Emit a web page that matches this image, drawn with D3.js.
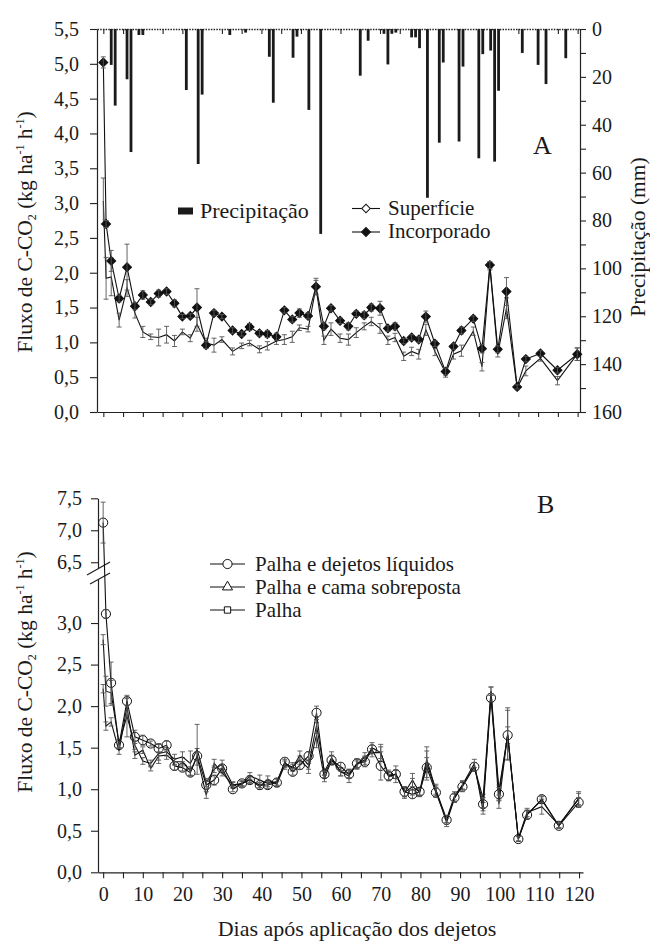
<!DOCTYPE html>
<html>
<head>
<meta charset="utf-8">
<script src="https://cdn.jsdelivr.net/npm/d3@7"></script>
<style>
body { margin: 0; background: #fff; }
svg text { font-family: "Liberation Serif", Tinos, "DejaVu Serif", serif; fill: #1a1a1a; }
</style>
</head>
<body>
<svg id="chart" width="650" height="941"></svg>
<script>
// sampling days (shared by both panels)
const days = [0, 0.7, 2, 4, 6, 8, 10, 12, 14, 16,
    18, 20, 22, 23.7, 26, 28, 30, 32.7, 35, 37,
    39.5, 41.5, 43.8, 45.8, 47.8, 49.6, 51.8, 53.8, 55.8, 57.6,
    59.9, 62, 64, 66, 67.8, 70, 72, 73.8, 76, 78,
    79.8, 81.6, 83.9, 86.6, 88.6, 90.6, 93.6, 95.8, 97.8, 99.8,
    102, 104.7, 106.9, 110.6, 114.9, 119.9]

// panel A
const superficie = [3.03, 1.92, 1.94, 1.32, 1.78, 1.42, 1.15, 1.08, 1.07, 1.11,
    1.02, 1.15, 1.06, 1.26, 0.99, 0.96, 1.04, 0.87, 0.95, 0.99,
    0.90, 0.95, 1.02, 1.04, 1.08, 1.21, 1.19, 1.79, 1.03, 1.19,
    1.06, 1.04, 1.14, 1.23, 1.30, 1.20, 1.03, 1.07, 0.80, 0.87,
    0.83, 1.18, 0.87, 0.56, 0.83, 0.88, 1.16, 0.65, 2.09, 0.83,
    1.49, 0.35, 0.59, 0.77, 0.45, 0.83]
const superficieErr = [0.33, 0.3, 0.27, 0.1, 0.12, 0.07, 0.08, 0.04, 0.12, 0.12,
    0.08, 0.04, 0.05, 0.1, 0.07, 0.1, 0.04, 0.05, 0.04, 0.04,
    0.05, 0.06, 0.05, 0.07, 0.08, 0.04, 0.04, 0.1, 0.06, 0.09,
    0.06, 0.08, 0.07, 0.05, 0.06, 0.07, 0.06, 0.06, 0.06, 0.06,
    0.07, 0.08, 0.06, 0.06, 0.07, 0.08, 0.06, 0.06, 0.05, 0.04,
    0.15, 0.03, 0.07, 0.04, 0.06, 0.09]
const incorporado = [5.02, 2.70, 2.17, 1.63, 2.08, 1.52, 1.68, 1.58, 1.70, 1.73,
    1.56, 1.37, 1.38, 1.50, 0.96, 1.42, 1.37, 1.17, 1.12, 1.22,
    1.13, 1.12, 1.08, 1.46, 1.33, 1.42, 1.38, 1.80, 1.23, 1.49,
    1.31, 1.23, 1.41, 1.39, 1.50, 1.49, 1.20, 1.23, 1.02, 1.07,
    1.04, 1.37, 0.98, 0.58, 0.94, 1.17, 1.34, 0.91, 2.11, 0.90,
    1.73, 0.36, 0.76, 0.84, 0.60, 0.83]
const incorporadoErr = [0.08, 0.05, 0.15, 0.05, 0.33, 0.05, 0.06, 0.04, 0.05, 0.04,
    0.05, 0.03, 0.03, 0.27, 0.05, 0.04, 0.03, 0.04, 0.03, 0.05,
    0.04, 0.05, 0.05, 0.04, 0.04, 0.06, 0.04, 0.12, 0.05, 0.04,
    0.04, 0.05, 0.04, 0.05, 0.05, 0.1, 0.04, 0.05, 0.04, 0.04,
    0.04, 0.08, 0.04, 0.05, 0.04, 0.05, 0.04, 0.06, 0.05, 0.05,
    0.2, 0.03, 0.04, 0.04, 0.04, 0.09]

const precipDays = [2, 3, 6, 7, 9, 10, 21, 24, 25, 32,
    36, 42, 43, 48, 49, 52, 55, 65, 67, 71,
    72, 73, 74, 78, 79, 80, 82, 85, 86, 90,
    91, 95, 96, 98, 99, 100, 106, 110, 112, 117]
const precipMm = [15, 32, 21, 51.4, 2.5, 2.5, 25.5, 56.4, 27.4, 2.5,
    1.5, 11.6, 30.8, 12, 3.2, 33.8, 85.6, 19.5, 4.9, 2,
    14.8, 2, 1.5, 3.5, 3.5, 8, 70.5, 47.5, 14, 47,
    15.7, 54, 10.5, 9, 55.4, 25.8, 10, 15, 23, 12.2]

// panel B
const liquidos = [7.12, 3.11, 2.28, 1.53, 2.06, 1.63, 1.59, 1.55, 1.49, 1.53,
    1.28, 1.26, 1.20, 1.40, 1.05, 1.11, 1.25, 1.00, 1.07, 1.11,
    1.05, 1.05, 1.08, 1.33, 1.21, 1.29, 1.40, 1.92, 1.18, 1.35,
    1.27, 1.18, 1.31, 1.33, 1.48, 1.28, 1.16, 1.18, 0.97, 0.94,
    0.97, 1.26, 0.96, 0.63, 0.90, 1.03, 1.27, 0.82, 2.10, 0.94,
    1.65, 0.40, 0.69, 0.88, 0.56, 0.84]
const liquidosErr = [0.32, 0.05, 0.25, 0.04, 0.05, 0.08, 0.06, 0.03, 0.05, 0.05,
    0.05, 0.04, 0.04, 0.05, 0.05, 0.06, 0.04, 0.03, 0.03, 0.04,
    0.03, 0.04, 0.04, 0.05, 0.04, 0.05, 0.05, 0.08, 0.04, 0.06,
    0.05, 0.05, 0.05, 0.06, 0.05, 0.17, 0.05, 0.05, 0.06, 0.05,
    0.04, 0.12, 0.06, 0.05, 0.05, 0.06, 0.05, 0.08, 0.05, 0.08,
    0.3, 0.03, 0.05, 0.04, 0.03, 0.06]
const cama = [2.80, 2.18, 2.16, 1.55, 1.88, 1.53, 1.34, 1.31, 1.43, 1.45,
    1.36, 1.39, 1.31, 1.48, 1.08, 1.24, 1.30, 1.05, 1.06, 1.16,
    1.11, 1.07, 1.09, 1.31, 1.26, 1.41, 1.29, 1.77, 1.21, 1.38,
    1.21, 1.16, 1.31, 1.35, 1.50, 1.44, 1.17, 1.18, 0.96, 1.11,
    0.96, 1.31, 0.99, 0.60, 0.89, 1.05, 1.31, 0.74, 2.18, 0.99,
    1.65, 0.41, 0.72, 0.79, 0.57, 0.88]
const camaErr = [0.06, 0.18, 0.15, 0.05, 0.25, 0.05, 0.04, 0.04, 0.12, 0.05,
    0.06, 0.06, 0.15, 0.3, 0.05, 0.04, 0.05, 0.04, 0.03, 0.04,
    0.06, 0.04, 0.04, 0.05, 0.04, 0.05, 0.05, 0.1, 0.04, 0.07,
    0.05, 0.08, 0.06, 0.05, 0.06, 0.07, 0.06, 0.1, 0.07, 0.08,
    0.05, 0.2, 0.07, 0.05, 0.05, 0.05, 0.05, 0.04, 0.05, 0.06,
    0.1, 0.03, 0.05, 0.09, 0.03, 0.07]
const palha = [2.21, 1.76, 1.81, 1.46, 1.99, 1.41, 1.47, 1.25, 1.40, 1.41,
    1.33, 1.33, 1.22, 1.39, 0.93, 1.31, 1.20, 1.05, 1.07, 1.12,
    1.03, 1.12, 1.06, 1.29, 1.27, 1.35, 1.25, 1.65, 1.13, 1.35,
    1.21, 1.19, 1.29, 1.39, 1.44, 1.44, 1.15, 1.18, 0.96, 1.03,
    0.97, 1.36, 0.99, 0.64, 0.92, 1.05, 1.27, 0.89, 2.18, 0.82,
    1.67, 0.40, 0.70, 0.87, 0.56, 0.89]
const palhaErr = [0.05, 0.05, 0.05, 0.04, 0.1, 0.04, 0.04, 0.03, 0.05, 0.05,
    0.04, 0.05, 0.05, 0.1, 0.04, 0.05, 0.04, 0.03, 0.03, 0.04,
    0.03, 0.04, 0.03, 0.05, 0.05, 0.05, 0.06, 0.15, 0.04, 0.05,
    0.05, 0.05, 0.05, 0.05, 0.05, 0.1, 0.05, 0.05, 0.05, 0.1,
    0.05, 0.1, 0.05, 0.04, 0.05, 0.05, 0.05, 0.05, 0.05, 0.05,
    0.31, 0.03, 0.05, 0.04, 0.03, 0.08]

const fluxTicksA = [0, 0.5, 1, 1.5, 2, 2.5, 3, 3.5, 4, 4.5, 5, 5.5]
const precipTicks = [0, 10, 20, 30, 40, 50, 60, 70, 80, 90, 100, 110, 120, 130, 140, 150, 160]
const fluxTicksLow = [0, 0.5, 1, 1.5, 2, 2.5, 3]
const fluxTicksHigh = [6.5, 7, 7.5]
const dayTicks = d3.range(0, 121, 5)

const ptBR = d3.formatLocale({ decimal: ',', thousands: '.', grouping: [3], currency: ['R$', ''] })
const fmt1 = ptBR.format('.1f')

const svg = d3.select('#chart')
const FONT = 20       // tick labels
const LABEL = 21      // legends
const TITLE = 21.5    // axis titles
const SERIF = '"Liberation Serif", Tinos, "DejaVu Serif", serif'

function pack(vals, errs) {
    return days.map((d, i) => ({ day: d, v: vals[i], e: errs[i] }))
}

function styleAxis(g) {
    g.attr('font-family', SERIF)
    g.selectAll('path.domain').attr('stroke', '#222').attr('stroke-width', 1.2)
    g.selectAll('.tick line').attr('stroke', '#222').attr('stroke-width', 1.1)
    g.selectAll('.tick text').attr('font-size', FONT).attr('fill', '#1a1a1a')
}

function fluxTitle(x, y) {
    const t = svg.append('text')
        .attr('transform', `translate(${x}, ${y}) rotate(-90)`)
        .attr('text-anchor', 'middle')
        .attr('font-size', TITLE)
    t.append('tspan').text('Fluxo de C-CO')
    t.append('tspan').attr('font-size', 12).attr('dy', 4).text('2')
    t.append('tspan').attr('dy', -4).text(' (kg ha')
    t.append('tspan').attr('font-size', 12).attr('dy', -8).text('-1')
    t.append('tspan').attr('dy', 8).text(' h')
    t.append('tspan').attr('font-size', 12).attr('dy', -8).text('-1')
    t.append('tspan').attr('dy', 8).text(')')
}

function drawSeries(g, data, x, y, symbol, size, fill, rotate) {
    g.append('path')
        .datum(data)
        .attr('fill', 'none')
        .attr('stroke', '#111')
        .attr('stroke-width', 1.1)
        .attr('d', d3.line().x(d => x(d.day)).y(d => y(d.v)))

    const eb = g.append('g').attr('stroke', '#555').attr('stroke-width', 0.9)
    eb.selectAll('line.bar')
        .data(data)
        .join('line')
        .attr('class', 'bar')
        .attr('x1', d => x(d.day)).attr('x2', d => x(d.day))
        .attr('y1', d => y(d.v - d.e)).attr('y2', d => y(d.v + d.e))
    eb.selectAll('line.cap-top')
        .data(data)
        .join('line')
        .attr('class', 'cap-top')
        .attr('x1', d => x(d.day) - 2.5).attr('x2', d => x(d.day) + 2.5)
        .attr('y1', d => y(d.v + d.e)).attr('y2', d => y(d.v + d.e))
    eb.selectAll('line.cap-bot')
        .data(data)
        .join('line')
        .attr('class', 'cap-bot')
        .attr('x1', d => x(d.day) - 2.5).attr('x2', d => x(d.day) + 2.5)
        .attr('y1', d => y(d.v - d.e)).attr('y2', d => y(d.v - d.e))

    g.selectAll('path.mark')
        .data(data)
        .join('path')
        .attr('class', 'mark')
        .attr('d', d3.symbol(symbol, size))
        .attr('transform', d => `translate(${x(d.day)}, ${y(d.v)}) rotate(${rotate})`)
        .attr('fill', fill)
        .attr('stroke', '#111')
        .attr('stroke-width', 1)
}

// ---------------- panel A ----------------
const A = { left: 97, right: 580, top: 29, bottom: 412 }
const xA = d3.scaleLinear().domain([-1.6, 120.6]).range([A.left, A.right])
const yA = d3.scaleLinear().domain([0, 5.5]).range([A.bottom, A.top])
const yP = d3.scaleLinear().domain([0, 160]).range([A.top, A.bottom])

// precipitation bars hanging from the top
svg.append('g')
    .selectAll('rect')
    .data(precipDays.map((d, i) => ({ day: d, mm: precipMm[i] })))
    .join('rect')
    .attr('x', d => xA(d.day) - 1.4)
    .attr('y', yP(0))
    .attr('width', 2.8)
    .attr('height', d => yP(d.mm) - yP(0))
    .attr('fill', '#1a1a1a')

const axLA = svg.append('g')
    .attr('transform', `translate(${A.left}, 0)`)
    .call(d3.axisLeft(yA).tickValues(fluxTicksA).tickFormat(fmt1).tickSize(7).tickPadding(11).tickSizeOuter(0))
styleAxis(axLA)

const axRA = svg.append('g')
    .attr('transform', `translate(${A.right}, 0)`)
    .call(d3.axisRight(yP).tickValues(precipTicks).tickFormat(d => d % 20 === 0 ? d : '').tickSize(6).tickPadding(6).tickSizeOuter(0))
styleAxis(axRA)

const axBA = svg.append('g')
    .attr('transform', `translate(0, ${A.bottom})`)
    .call(d3.axisBottom(xA).tickValues(dayTicks).tickFormat('').tickSize(5).tickSizeOuter(0))
styleAxis(axBA)

const axTA = svg.append('g')
    .attr('transform', `translate(0, ${A.top})`)
    .call(d3.axisTop(xA).tickValues(dayTicks).tickFormat('').tickSize(-5).tickSizeOuter(0))
styleAxis(axTA)
axTA.select('path.domain').attr('stroke-dasharray', '1.5,1.2').attr('stroke-width', 1.4)

const gA = svg.append('g')
drawSeries(gA, pack(superficie, superficieErr), xA, yA, d3.symbolSquare, 36, '#fff', 45)
drawSeries(gA, pack(incorporado, incorporadoErr), xA, yA, d3.symbolSquare, 40, '#111', 45)

fluxTitle(32, 232)
svg.append('text')
    .attr('transform', 'translate(645, 237) rotate(-90)')
    .attr('text-anchor', 'middle')
    .attr('font-size', TITLE)
    .text('Precipitação (mm)')

svg.append('text').attr('x', 533).attr('y', 154).attr('font-size', 26).text('A')

// legend A
svg.append('rect').attr('x', 178).attr('y', 207.5).attr('width', 15).attr('height', 7).attr('fill', '#1a1a1a')
svg.append('text').attr('x', 200).attr('y', 218).attr('font-size', 22).text('Precipitação')

const legA = [
    { label: 'Superfície', fill: '#fff', size: 36, y: 208.5 },
    { label: 'Incorporado', fill: '#111', size: 40, y: 232 }
]
legA.forEach(l => {
    svg.append('line').attr('x1', 352).attr('x2', 380).attr('y1', l.y).attr('y2', l.y)
        .attr('stroke', '#111').attr('stroke-width', 1.1)
    svg.append('path').attr('d', d3.symbol(d3.symbolSquare, l.size))
        .attr('transform', `translate(366, ${l.y}) rotate(45)`)
        .attr('fill', l.fill).attr('stroke', '#111')
    svg.append('text').attr('x', 388).attr('y', l.y + 6).attr('font-size', LABEL).text(l.label)
})

// ---------------- panel B ----------------
const B = { left: 98, right: 583, bottom: 872.3, lowTop: 579, highBottom: 568, top: 498.3 }
const xB = d3.scaleLinear().domain([-1.3, 121]).range([B.left, B.right])
const yLow = d3.scaleLinear().domain([0, 3.53]).range([B.bottom, B.lowTop])
const yHigh = d3.scaleLinear().domain([6.41, 7.5]).range([B.highBottom, B.top])
const yB = v => v > 5 ? yHigh(v) : yLow(v)

const axLB = svg.append('g')
    .attr('transform', `translate(${B.left}, 0)`)
    .call(d3.axisLeft(yLow).tickValues(fluxTicksLow).tickFormat(fmt1).tickSize(7).tickPadding(9).tickSizeOuter(0))
styleAxis(axLB)
const axHB = svg.append('g')
    .attr('transform', `translate(${B.left}, 0)`)
    .call(d3.axisLeft(yHigh).tickValues(fluxTicksHigh).tickFormat(fmt1).tickSize(7).tickPadding(9).tickSizeOuter(0))
styleAxis(axHB)

// axis break marks
const brk = svg.append('g').attr('stroke', '#222').attr('stroke-width', 1.3)
brk.append('line').attr('x1', B.left - 11).attr('y1', B.highBottom + 7).attr('x2', B.left + 12).attr('y2', B.highBottom - 6)
brk.append('line').attr('x1', B.left - 8).attr('y1', B.lowTop + 5).attr('x2', B.left + 12).attr('y2', B.lowTop - 6)

const axBB = svg.append('g')
    .attr('transform', `translate(0, ${B.bottom})`)
    .call(d3.axisBottom(xB).tickValues(dayTicks).tickFormat(d => d % 10 === 0 ? d : '').tickSize(6).tickPadding(9).tickSizeOuter(0))
styleAxis(axBB)

const gB = svg.append('g')
drawSeries(gB, pack(palha, palhaErr), xB, yB, d3.symbolSquare, 40, 'none', 0)
drawSeries(gB, pack(cama, camaErr), xB, yB, d3.symbolTriangle, 44, 'none', 0)
drawSeries(gB, pack(liquidos, liquidosErr), xB, yB, d3.symbolCircle, 66, 'none', 0)

fluxTitle(32, 672)
svg.append('text').attr('x', 537).attr('y', 513).attr('font-size', 26).text('B')
svg.append('text').attr('x', 357).attr('y', 936).attr('text-anchor', 'middle').attr('font-size', 22)
    .text('Dias após aplicação dos dejetos')

// legend B
const legB = [
    { label: 'Palha e dejetos líquidos', symbol: d3.symbolCircle, size: 66, y: 564 },
    { label: 'Palha e cama sobreposta', symbol: d3.symbolTriangle, size: 44, y: 587 },
    { label: 'Palha', symbol: d3.symbolSquare, size: 40, y: 610 }
]
legB.forEach(l => {
    svg.append('line').attr('x1', 210).attr('x2', 245).attr('y1', l.y).attr('y2', l.y)
        .attr('stroke', '#111').attr('stroke-width', 1.1)
    svg.append('path').attr('d', d3.symbol(l.symbol, l.size))
        .attr('transform', `translate(227.5, ${l.y})`)
        .attr('fill', '#fff').attr('stroke', '#111')
    svg.append('text').attr('x', 255).attr('y', l.y + 7).attr('font-size', LABEL).text(l.label)
})
</script>
</body>
</html>
